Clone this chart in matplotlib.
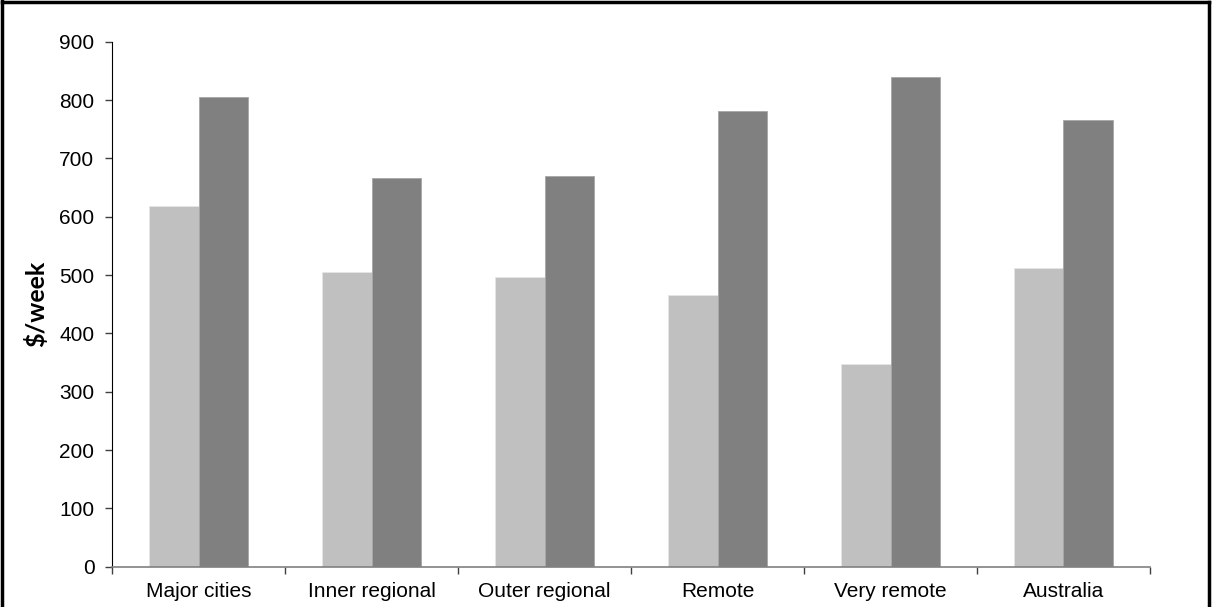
import numpy as np
import matplotlib
matplotlib.use("Agg")
import matplotlib.pyplot as plt
from matplotlib.lines import Line2D

# data ($/week)
categories = ["Major cities", "Inner regional", "Outer regional", "Remote", "Very remote", "Australia"]
series_light = [618, 505, 497, 466, 348, 512]
series_dark = [805, 666, 669, 781, 839, 766]
y_ticks = [0, 100, 200, 300, 400, 500, 600, 700, 800, 900]

plt.rcParams['font.family'] = ['Liberation Sans', 'DejaVu Sans']

fig = plt.figure(figsize=(12.13, 6.07), dpi=100)
ax = fig.add_axes([0.0927, 0.0664, 0.9480 - 0.0927, 0.8649])

x = np.arange(len(categories))
w = 1 / 3.5  # excel style, gap width 150%
ax.bar(x - w / 2, series_light, width=w, color="#c0c0c0", edgecolor="#e6e6e6", linewidth=0.6)
ax.bar(x + w / 2, series_dark, width=w, color="#808080", edgecolor="#a6a6a6", linewidth=0.6)

ax.set_xlim(-0.5, len(categories) - 0.5)
ax.set_ylim(0, 900)
ax.set_yticks(y_ticks)
ax.tick_params(axis='y', direction='out', length=5, width=1, labelsize=15, pad=8, color='#404040')

# boundaries get the tick marks, the names sit at the group centres
ax.set_xticks(np.arange(-0.5, len(categories)), labels=[])
ax.set_xticks(x, labels=categories, minor=True)
ax.tick_params(axis='x', which='major', direction='out', length=5, width=1, color='#404040')
ax.tick_params(axis='x', which='minor', length=0, labelsize=15, pad=11)

for side in ['top', 'right']:
    ax.spines[side].set_visible(False)
ax.spines['left'].set_color('black')
ax.spines['bottom'].set_color('#808080')
ax.spines['bottom'].set_linewidth(1.2)

ax.set_ylabel("$/week", fontsize=18, fontweight='bold', family=['Lato', 'DejaVu Sans'], labelpad=8)

# outer frame (left, top, right)
for xs, ys in [([0.002, 0.002], [0, 0.998]), ([0.002, 0.997], [0.996, 0.996]), ([0.997, 0.997], [0, 0.996])]:
    fig.add_artist(Line2D(xs, ys, transform=fig.transFigure, color='black', linewidth=2.5))

fig.savefig("out.png", dpi=100)
